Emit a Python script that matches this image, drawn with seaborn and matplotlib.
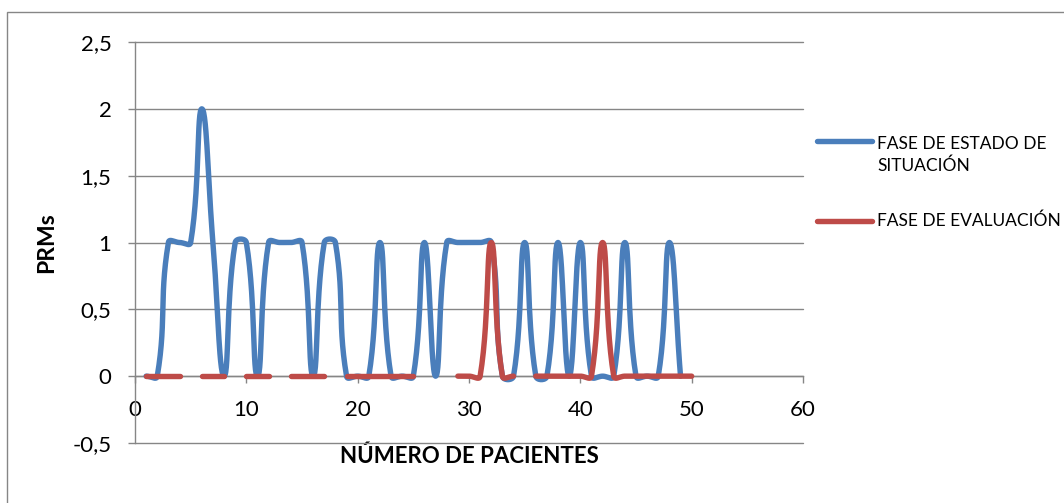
import numpy as np
import pandas as pd
import matplotlib
matplotlib.use("Agg")
import matplotlib.pyplot as plt
import seaborn as sns
from matplotlib.lines import Line2D
from matplotlib.patches import Rectangle

# ---- data -------------------------------------------------------------
nan = np.nan
pacientes = list(range(1, 51))
estado_situacion = [0, 0, 1, 1, 1, 2, 1, 0, 1, 1,
                    0, 1, 1, 1, 1, 0, 1, 1, 0, 0,
                    0, 1, 0, 0, 0, 1, 0, 1, 1, 1,
                    1, 1, 0, 0, 1, 0, 0, 1, 0, 1,
                    0, 0, 0, 1, 0, 0, 0, 1, 0, nan]
evaluacion = [0, 0, 0, 0, nan, 0, 0, 0, nan, 0,
              0, 0, nan, 0, 0, 0, 0, nan, 0, 0,
              0, 0, 0, 0, 0, nan, nan, nan, 0, 0,
              0, 1, 0, 0, nan, 0, 0, 0, 0, 0,
              0, 1, 0, 0, 0, 0, 0, 0, 0, 0]
series_names = ["FASE DE ESTADO DE\nSITUACIÓN", "FASE DE EVALUACIÓN"]
series_colors = ["#4A7EBB", "#BE4B48"]
x_ticks = [0, 10, 20, 30, 40, 50, 60]
y_ticks = [-0.5, 0, 0.5, 1, 1.5, 2, 2.5]
y_tick_labels = ["-0,5", "0", "0,5", "1", "1,5", "2", "2,5"]
x_title = "NÚMERO DE PACIENTES"
y_title = "PRMs"

GRID = "#868686"
LW = 3.9


def bezier_run(px, py, sx, sy, steps=30, f=0.45):
    """Smooth a run of points with cubic Beziers (tangents weighted by screen distance)."""
    P = np.column_stack([px, py]).astype(float)
    Pe = np.vstack([P[0], P, P[-1]])
    S = np.array([sx, sy])
    d = np.linalg.norm(np.diff(Pe * S, axis=0), axis=1)
    t = np.linspace(0, 1, steps)[:, None]
    pieces = []
    for i in range(len(P) - 1):
        a, b = i + 1, i + 2
        p0, p1, p2, p3 = Pe[a - 1], Pe[a], Pe[b], Pe[b + 1]
        d0, d1, d2 = d[a - 1], d[a], d[b]
        w1 = d1 / (d0 + d1) if d0 + d1 > 0 else 0.0
        w2 = d1 / (d1 + d2) if d1 + d2 > 0 else 0.0
        c1 = p1 + (p2 - p0) * w1 * f
        c2 = p2 - (p3 - p1) * w2 * f
        seg = ((1 - t) ** 3) * p1 + 3 * ((1 - t) ** 2) * t * c1 \
            + 3 * (1 - t) * t ** 2 * c2 + t ** 3 * p2
        pieces.append(seg if i == 0 else seg[1:])
    return np.vstack(pieces)


def smooth_frame(xs, ys, name, sx, sy):
    xs = np.asarray(xs, float)
    ys = np.asarray(ys, float)
    ok = ~np.isnan(ys)
    rows = []
    run = 0
    i = 0
    while i < len(xs):
        if not ok[i]:
            i += 1
            continue
        j = i
        while j < len(xs) and ok[j]:
            j += 1
        if j - i >= 2:
            curve = bezier_run(xs[i:j], ys[i:j], sx, sy)
            rows.append(pd.DataFrame({"x": curve[:, 0], "y": curve[:, 1],
                                      "serie": name, "tramo": f"{name}-{run}"}))
            run += 1
        i = j
    return pd.concat(rows, ignore_index=True)


# ---- figure -----------------------------------------------------------
sns.set_style("white")
plt.rcParams["font.family"] = ["Lato", "DejaVu Sans"]

W, H = 1064, 503
fig = plt.figure(figsize=(W / 100, H / 100), dpi=100)
left, right, top, bottom = 135, 803, 42, 443
ax = fig.add_axes([left / W, 1 - bottom / H, (right - left) / W, (bottom - top) / H])
ax.set_xlim(0, 60)
ax.set_ylim(-0.5, 2.5)

sx = (right - left) / 60.0
sy = (bottom - top) / 3.0
df = pd.concat([smooth_frame(pacientes, estado_situacion, series_names[0], sx, sy),
                smooth_frame(pacientes, evaluacion, series_names[1], sx, sy)],
               ignore_index=True)

sns.lineplot(data=df, x="x", y="y", hue="serie", units="tramo", estimator=None,
             sort=False, hue_order=series_names, palette=series_colors,
             linewidth=LW, legend=False, ax=ax, zorder=3)
for ln in ax.get_lines():
    ln.set_solid_capstyle("round")
    ln.set_solid_joinstyle("round")

# axes, ticks, grid
ax.set_yticks(y_ticks)
ax.set_yticklabels(y_tick_labels)
ax.set_xticks(x_ticks)
ax.set_xticklabels([str(v) for v in x_ticks])
ax.yaxis.grid(True, color=GRID, linewidth=1.0)
ax.xaxis.grid(False)
for gl in ax.get_ygridlines():
    gl.set_clip_on(False)
for side in ("top", "right"):
    ax.spines[side].set_visible(False)
ax.spines["left"].set_color(GRID)
ax.spines["left"].set_linewidth(1.0)
ax.spines["bottom"].set_position(("data", 0))
ax.spines["bottom"].set_color(GRID)
ax.spines["bottom"].set_linewidth(1.0)
ax.tick_params(axis="y", direction="out", length=5, width=1, color=GRID,
               pad=12, labelsize=16, labelcolor="black", left=True)
ax.tick_params(axis="x", direction="out", length=5, width=1, color=GRID,
               pad=12, labelsize=16, labelcolor="black", bottom=True)

ax.set_xlabel(x_title, fontsize=16, fontweight="bold", color="black")
ax.xaxis.set_label_coords(0.5, -0.033)
ax.xaxis.label.set_va("center")
ax.set_ylabel(y_title, fontsize=16.5, fontweight="bold", color="black")
ax.yaxis.set_label_coords(-0.133, 0.5)
ax.yaxis.label.set_va("center")

# legend
hx0, hx1, tx = 817 / W, 872 / W, 877 / W
for name, color, yc, ty in [(series_names[0], series_colors[0], 141, 155),
                            (series_names[1], series_colors[1], 221, 221)]:
    fig.add_artist(Line2D([hx0, hx1], [1 - yc / H, 1 - yc / H], color=color,
                          linewidth=LW, solid_capstyle="round",
                          transform=fig.transFigure))
    fig.text(tx, 1 - ty / H, name, fontsize=12.5, va="center", ha="left",
             linespacing=1.45, color="black")

# chart frame
fig.add_artist(Rectangle((7 / W, -0.1), 1.2, 1 - 12 / H + 0.1, fill=False,
                         edgecolor=GRID, linewidth=1.0, transform=fig.transFigure))

fig.savefig("out.png", dpi=100)
